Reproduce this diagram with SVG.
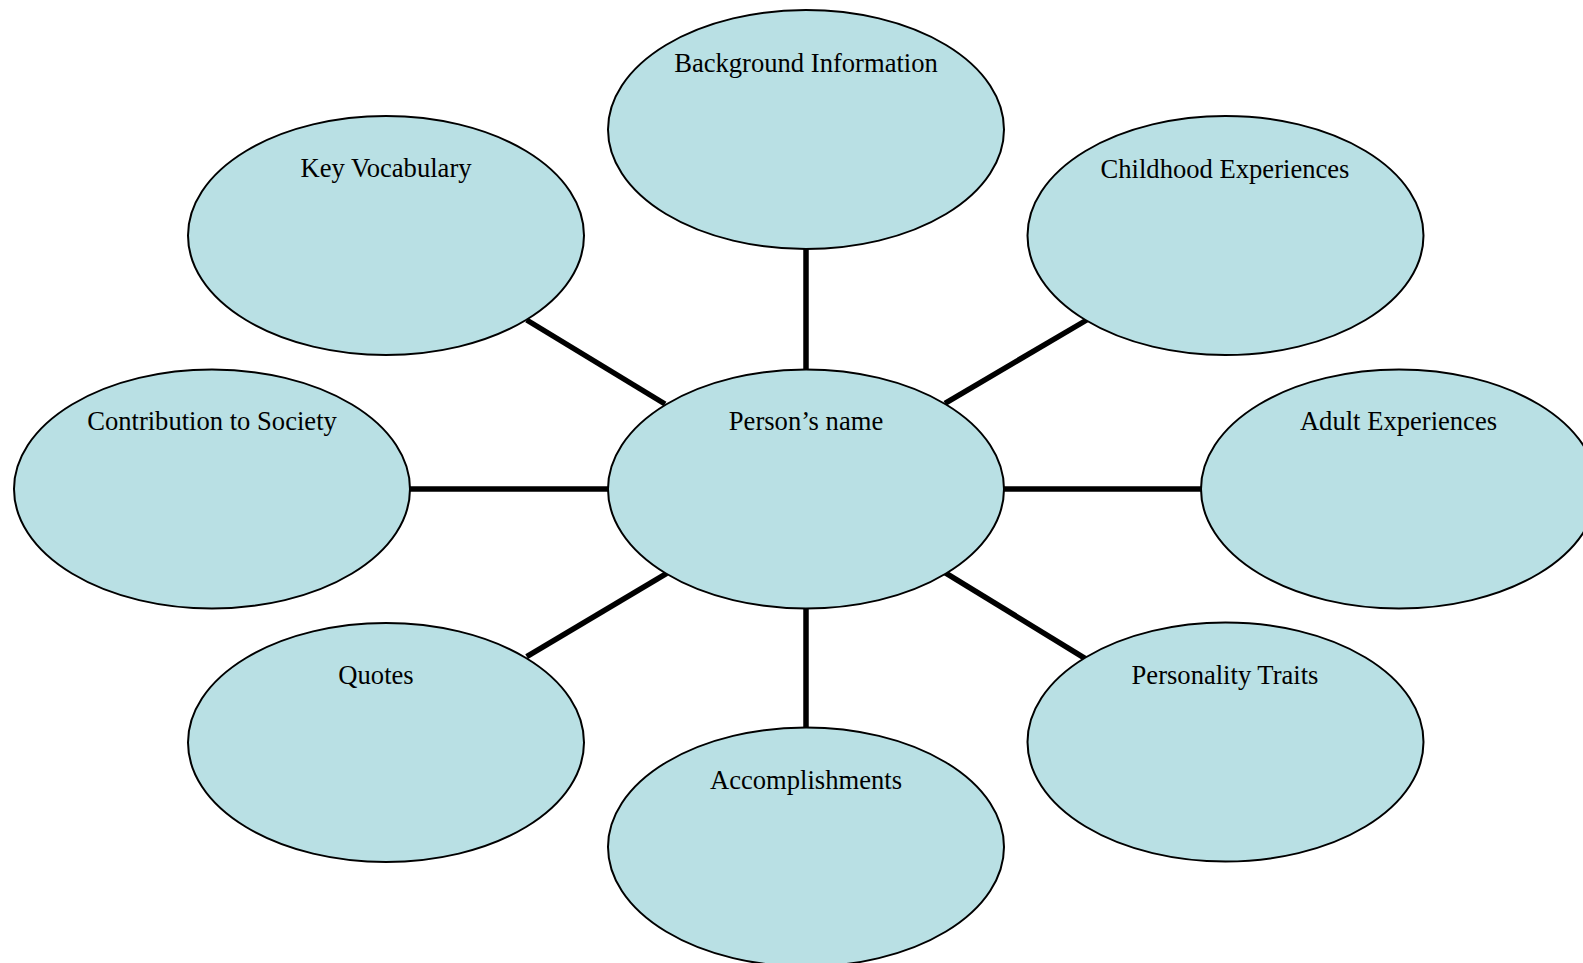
<svg xmlns="http://www.w3.org/2000/svg" width="1583" height="963" viewBox="0 0 1583 963">
  <style>
    .node ellipse { fill: #B9E0E4; stroke: #000; stroke-width: 2; }
    .node text { font-family: "Liberation Serif", "Times New Roman", serif; font-size: 26.6px; fill: #000; text-anchor: middle; }
    .conn line { stroke: #000; stroke-width: 5.5; }
  </style>
  <rect width="1583" height="963" fill="#fff"/>
  <g id="connectors" class="conn">
    <line x1="806" y1="249" x2="806" y2="370"/>
    <line x1="806" y1="608" x2="806" y2="728"/>
    <line x1="410" y1="489" x2="608" y2="489"/>
    <line x1="1004" y1="489" x2="1201" y2="489"/>
    <line x1="526.7" y1="320" x2="665" y2="404"/>
    <line x1="945" y1="403.3" x2="1086.7" y2="320"/>
    <line x1="526.7" y1="656.7" x2="666.7" y2="573.3"/>
    <line x1="945" y1="572.7" x2="1085" y2="658.3"/>
  </g>
  <g id="center" class="node">
    <ellipse cx="806" cy="489" rx="198" ry="119.5"/>
    <text x="806" y="430">Person’s name</text>
  </g>
  <g id="background" class="node">
    <ellipse cx="806" cy="129.5" rx="198" ry="119.5"/>
    <text x="806" y="71.5">Background Information</text>
  </g>
  <g id="childhood" class="node">
    <ellipse cx="1225.5" cy="235.5" rx="198" ry="119.5"/>
    <text x="1225" y="177.5">Childhood Experiences</text>
  </g>
  <g id="adult" class="node">
    <ellipse cx="1399" cy="489" rx="198" ry="119.5"/>
    <text x="1398.5" y="430">Adult Experiences</text>
  </g>
  <g id="personality" class="node">
    <ellipse cx="1225.5" cy="742" rx="198" ry="119.5"/>
    <text x="1225" y="683.5">Personality Traits</text>
  </g>
  <g id="accomplishments" class="node">
    <ellipse cx="806" cy="847" rx="198" ry="119.5"/>
    <text x="806" y="789">Accomplishments</text>
  </g>
  <g id="quotes" class="node">
    <ellipse cx="386" cy="742.5" rx="198" ry="119.5"/>
    <text x="376" y="683.5">Quotes</text>
  </g>
  <g id="contribution" class="node">
    <ellipse cx="212" cy="489" rx="198" ry="119.5"/>
    <text x="212" y="430">Contribution to Society</text>
  </g>
  <g id="vocabulary" class="node">
    <ellipse cx="386" cy="235.5" rx="198" ry="119.5"/>
    <text x="386" y="177">Key Vocabulary</text>
  </g>
</svg>
